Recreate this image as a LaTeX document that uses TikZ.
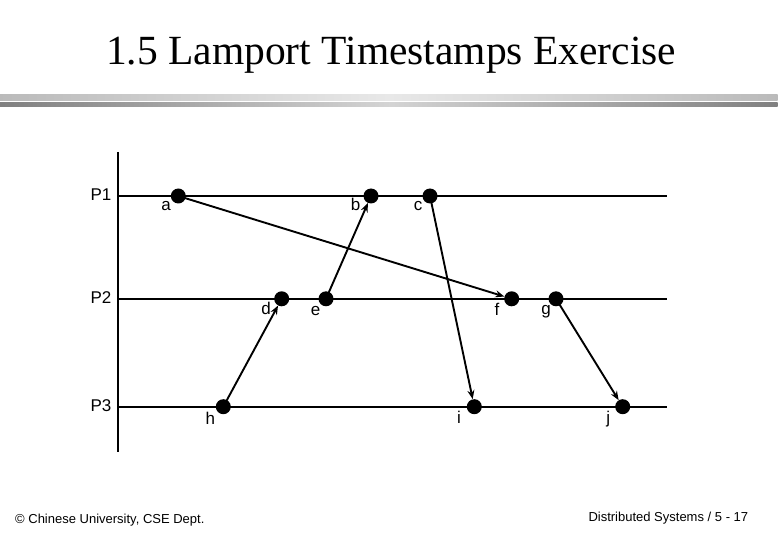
\documentclass[tikz,border=0pt]{standalone}
\usepackage{fontspec}
\setmainfont{Liberation Serif}
\newfontfamily\arialfont{Liberation Sans}
\usetikzlibrary{arrows.meta}
\begin{document}
\begin{tikzpicture}[x=1pt,y=-1pt,
  dot/.style={circle,fill=black,draw=none,minimum size=15pt,inner sep=0pt},
  lbl/.style={anchor=base,inner sep=0pt,font=\arialfont\fontsize{17}{19}\selectfont},
  proc/.style={line width=1.8pt},
  msg/.style={line width=1.9pt,-{Stealth[length=9pt,width=7pt]}},
  foot/.style={anchor=base west,inner sep=0pt,font=\arialfont\fontsize{13}{15}\selectfont}]
\useasboundingbox (0,0) rectangle (780,540);
% title
\node[anchor=base,inner sep=0pt,font=\fontsize{41.5}{48}\selectfont] (title) at (391.2,64.8) {1.5 Lamport Timestamps Exercise};
% header bars
\shade[left color=black!27,right color=black!27,middle color=black!9] (0,94.3) rectangle (777.7,100.7);
\shade[left color=black!50,right color=black!50,middle color=black!17] (0,103) rectangle (777.7,107);
% axis and process lines
\coordinate (axtop) at (118.3,152);
\coordinate (axbot) at (118.3,451.7);
\draw[proc] (axtop) -- (axbot);
\coordinate (p1s) at (118.3,196);   \coordinate (p1e) at (667.3,196);
\coordinate (p2s) at (118.3,298.8); \coordinate (p2e) at (667.3,298.8);
\coordinate (p3s) at (118.3,406.7); \coordinate (p3e) at (667.3,406.7);
\draw[proc] (p1s) -- (p1e);
\draw[proc] (p2s) -- (p2e);
\draw[proc] (p3s) -- (p3e);
% process labels
\node[lbl] (P1) at (101,200.7) {P1};
\node[lbl] (P2) at (101,303.5) {P2};
\node[lbl] (P3) at (101,411.4) {P3};
% events
\node[dot] (a) at (178.3,196) {};
\node[dot] (b) at (371,196) {};
\node[dot] (c) at (430,196) {};
\node[dot] (d) at (281.7,298.8) {};
\node[dot] (e) at (326,298.8) {};
\node[dot] (f) at (511.7,298.8) {};
\node[dot] (g) at (556,298.8) {};
\node[dot] (h) at (223.3,406.7) {};
\node[dot] (i) at (474.3,406.7) {};
\node[dot] (j) at (622.7,406.7) {};
% event labels
\node[lbl] (la) at (166,210.7) {a};
\node[lbl] (lb) at (355.7,211) {b};
\node[lbl] (lc) at (418,210.7) {c};
\node[lbl] (ld) at (266,315) {d};
\node[lbl] (le) at (315.5,316) {e};
\node[lbl] (lf) at (497,316) {f};
\node[lbl] (lg) at (546,314.5) {g};
\node[lbl] (lh) at (210.3,424.3) {h};
\node[lbl] (li) at (459,423.3) {i};
\node[lbl] (lj) at (608.3,423.3) {j};
% messages
\draw[msg] (a.center) -- (f);
\draw[msg] (e.center) -- (b);
\draw[msg] (h.center) -- (d);
\draw[msg] (c.center) -- (i);
\draw[msg] (g.center) -- (j);
% footer
\node[foot] (fl) at (15,523.3) {\textcopyright{} Chinese University, CSE Dept.};
\node[foot] (fr) at (588.3,521) {Distributed Systems / 5 - 17};
\end{tikzpicture}
\end{document}
